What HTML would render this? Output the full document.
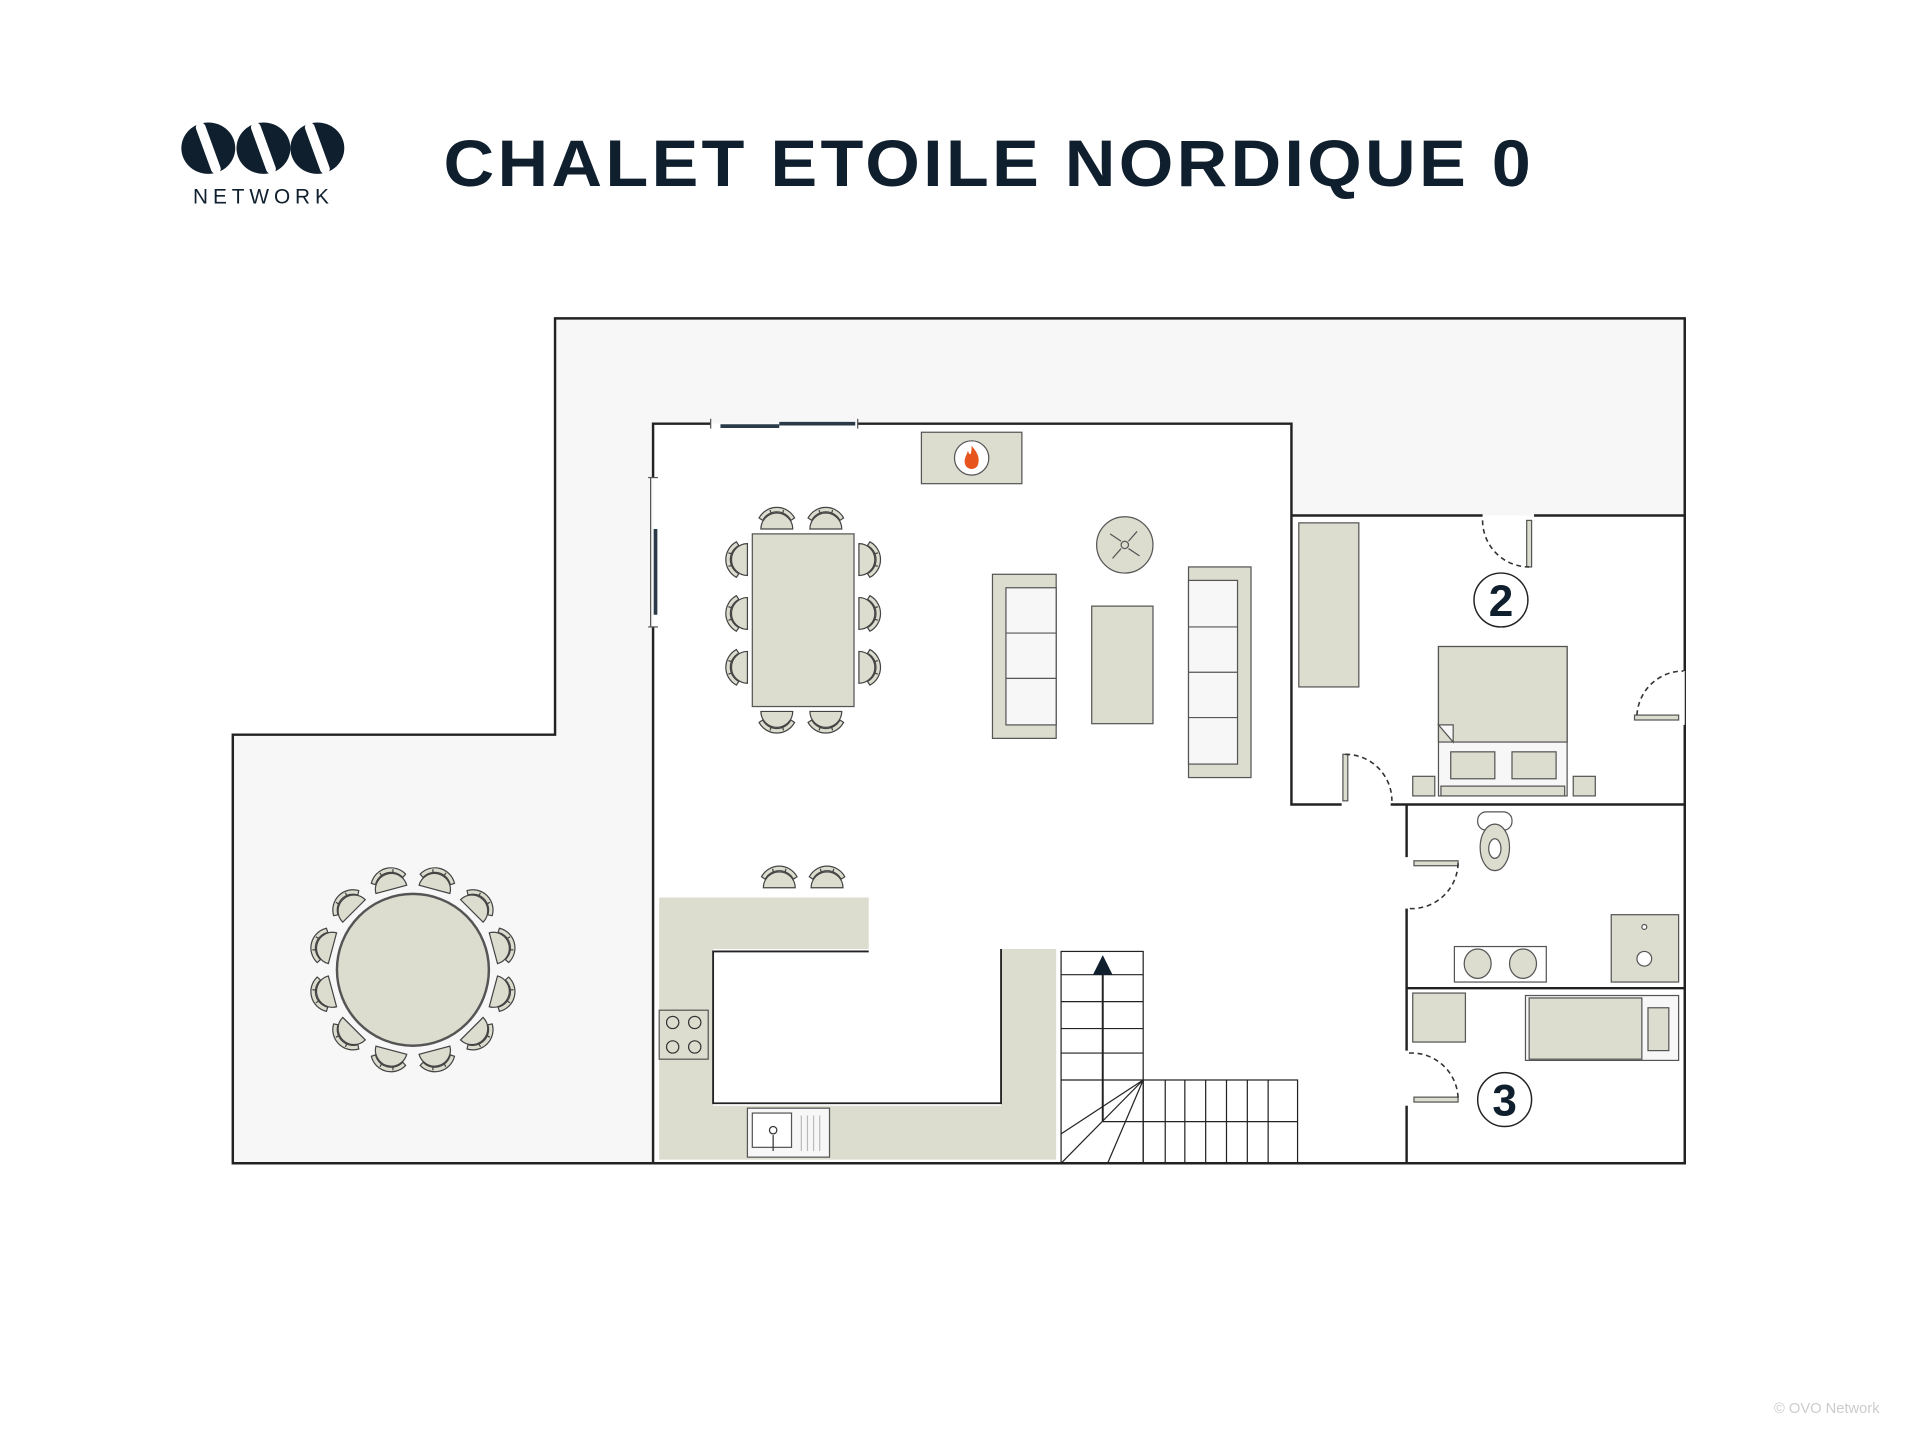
<!DOCTYPE html>
<html><head><meta charset="utf-8"><style>
html,body{margin:0;padding:0;background:#fff;}
svg{display:block;}
</style></head><body>
<svg width="1920" height="1440" viewBox="0 0 1567 1176" preserveAspectRatio="none" xmlns="http://www.w3.org/2000/svg">
<defs>
<g id="ch">
<path d="M-13,8 A13,13 0 0 1 13,8 Z" fill="#dcdccf" stroke="#444" stroke-width="1"/>
<path d="M-11.5,1 A13,13 0 0 1 11.5,1 L14.5,-1 A16.5,16.5 0 0 0 -14.5,-1 Z" fill="#dcdccf" stroke="#444" stroke-width="1"/>
<path d="M-4.5,-4 L-5.5,-7.5 M4.5,-4 L5.5,-7.5" stroke="#444" stroke-width="1"/>
</g>
</defs>
<rect width="1567" height="1176" fill="#fff"/>
<!-- logo -->
<g fill="#0f1f2e">
<ellipse cx="170" cy="121" rx="22" ry="21"/>
<ellipse cx="215" cy="121" rx="22" ry="21"/>
<ellipse cx="259" cy="121" rx="22" ry="21"/>
</g>
<g fill="#fff">
<rect x="-4" y="-22" width="8" height="44" rx="4" transform="translate(170,121) rotate(-20)"/>
<rect x="-4" y="-22" width="8" height="44" rx="4" transform="translate(215,121) rotate(-20)"/>
<rect x="-4" y="-22" width="8" height="44" rx="4" transform="translate(259,121) rotate(-20)"/>
</g>
<text x="215" y="166" font-family="Liberation Sans, sans-serif" font-size="17" fill="#0f1f2e" text-anchor="middle" letter-spacing="4">NETWORK</text>
<text x="362" y="152" font-family="Liberation Sans, sans-serif" font-weight="bold" font-size="54" fill="#0f1f2e" letter-spacing="2.5" textLength="890" lengthAdjust="spacingAndGlyphs">CHALET ETOILE NORDIQUE 0</text>

<!-- terrace -->
<polygon points="453,260 1375,260 1375,950 190,950 190,600 453,600" fill="#f7f7f7" stroke="#222" stroke-width="2"/>
<polygon points="533,346 1054,346 1054,421 1375,421 1375,950 533,950" fill="#fff"/>
<g stroke="#222" stroke-width="2" fill="none">
<line x1="190" y1="950" x2="1376" y2="950"/>
<line x1="1375" y1="260" x2="1375" y2="548"/>
<line x1="1375" y1="592" x2="1375" y2="950"/>
<polyline points="533,390 533,346 580,346"/>
<polyline points="700,346 1054,346 1054,657 1095,657"/>
<line x1="533" y1="512" x2="533" y2="950"/>
<line x1="1054" y1="421" x2="1210" y2="421"/>
<line x1="1252" y1="421" x2="1375" y2="421"/>
<line x1="1135" y1="657" x2="1375" y2="657"/>
<line x1="1148" y1="657" x2="1148" y2="700"/>
<line x1="1148" y1="742" x2="1148" y2="858"/>
<line x1="1148" y1="903" x2="1148" y2="950"/>
<line x1="1148" y1="807" x2="1375" y2="807"/>
</g>
<!-- windows -->
<g stroke="#2a3a48" stroke-width="3">
<line x1="588" y1="348" x2="636" y2="348"/><line x1="636" y1="346" x2="698" y2="346"/>
<line x1="535" y1="432" x2="535" y2="502"/>
</g>
<g stroke="#555" stroke-width="1" fill="none">
<line x1="580" y1="342" x2="580" y2="350"/><line x1="700" y1="342" x2="700" y2="350"/>
<line x1="529" y1="390" x2="537" y2="390"/><line x1="529" y1="512" x2="537" y2="512"/>
<line x1="531" y1="390" x2="531" y2="512"/>
</g>
<!-- doors -->
<g fill="#dcdccf" stroke="#555" stroke-width="1">
<rect x="1246" y="425" width="4" height="38"/>
<rect x="1334" y="584" width="36" height="4"/>
<rect x="1096" y="616" width="4" height="38"/>
<rect x="1154" y="703" width="36" height="4"/>
<rect x="1154" y="896" width="36" height="4"/>
</g>
<g fill="none" stroke="#333" stroke-width="1.3" stroke-dasharray="4,3">
<path d="M1210,425 A38,38 0 0 0 1248,463"/>
<path d="M1336,584 A38,38 0 0 1 1374,548"/>
<path d="M1098,616 A38,38 0 0 1 1136,654"/>
<path d="M1190,705 A38,38 0 0 1 1150,742"/>
<path d="M1150,860 A38,38 0 0 1 1190,898"/>
</g>
<!-- fireplace -->
<rect x="752" y="353" width="82" height="42" fill="#dcdccf" stroke="#555"/>
<circle cx="793" cy="374" r="14" fill="#fff" stroke="#555"/>
<path d="M793,364 C798,370 800,374 798,380 C796,384 790,384 788,380 C786,375 789,372 790,368 C791,372 793,373 793,364 Z" fill="#e8541e"/>
<!-- fan -->
<circle cx="918" cy="445" r="23" fill="#dcdccf" stroke="#555"/>
<g stroke="#555" fill="none"><circle cx="918" cy="445" r="3"/><path d="M915,442 L906,436 M921,442 L928,434 M921,448 L930,454 M915,448 L908,456"/></g>
<!-- dining -->
<rect x="614" y="436" width="83" height="141" fill="#dcdccf" stroke="#555"/>
<use href="#ch" transform="translate(634,424)"/><use href="#ch" transform="translate(674,424)"/>
<use href="#ch" transform="translate(634,589) rotate(180)"/><use href="#ch" transform="translate(674,589) rotate(180)"/>
<use href="#ch" transform="translate(602,457) rotate(-90)"/><use href="#ch" transform="translate(602,501) rotate(-90)"/><use href="#ch" transform="translate(602,545) rotate(-90)"/>
<use href="#ch" transform="translate(709,457) rotate(90)"/><use href="#ch" transform="translate(709,501) rotate(90)"/><use href="#ch" transform="translate(709,545) rotate(90)"/>
<!-- sofas -->
<g stroke="#555" stroke-width="1">
<rect x="810" y="469" width="52" height="134" fill="#dcdccf"/>
<rect x="821" y="480" width="41" height="112" fill="#f7f7f7"/>
<line x1="821" y1="517" x2="862" y2="517"/><line x1="821" y1="554" x2="862" y2="554"/>
<rect x="891" y="495" width="50" height="96" fill="#dcdccf"/>
<rect x="970" y="463" width="51" height="172" fill="#dcdccf"/>
<rect x="970" y="474" width="40" height="150" fill="#f7f7f7"/>
<line x1="970" y1="512" x2="1010" y2="512"/><line x1="970" y1="549" x2="1010" y2="549"/><line x1="970" y1="586" x2="1010" y2="586"/>
<!-- bedroom -->
<rect x="1060" y="427" width="49" height="134" fill="#dcdccf"/>
<rect x="1174" y="528" width="105" height="122" fill="#f7f7f7"/>
<rect x="1174" y="528" width="105" height="78" fill="#dcdccf"/>
<path d="M1174,592 L1186,592 L1186,606 Z" fill="#f7f7f7"/>
<rect x="1184" y="614" width="36" height="22" fill="#dcdccf"/>
<rect x="1234" y="614" width="36" height="22" fill="#dcdccf"/>
<rect x="1176" y="642" width="101" height="8" fill="#dcdccf"/>
<rect x="1153" y="634" width="18" height="16" fill="#dcdccf"/>
<rect x="1284" y="634" width="18" height="16" fill="#dcdccf"/>
<!-- bath -->
<rect x="1206" y="663" width="28" height="15" rx="7" fill="#fff"/>
<ellipse cx="1220" cy="692" rx="12" ry="19" fill="#dcdccf"/>
<ellipse cx="1220" cy="693" rx="5" ry="8" fill="#fff"/>
<rect x="1187" y="773" width="75" height="29" fill="#fff"/>
<ellipse cx="1206" cy="787" rx="11" ry="12" fill="#dcdccf"/><ellipse cx="1243" cy="787" rx="11" ry="12" fill="#dcdccf"/>
<rect x="1315" y="747" width="55" height="55" fill="#dcdccf"/>
<circle cx="1342" cy="783" r="6" fill="#fff"/><circle cx="1342" cy="757" r="2" fill="#fff"/>
<rect x="1153" y="811" width="43" height="40" fill="#dcdccf"/>
<rect x="1245" y="813" width="125" height="53" fill="#f7f7f7"/>
<rect x="1248" y="815" width="92" height="50" fill="#dcdccf"/>
<rect x="1345" y="823" width="17" height="35" fill="#dcdccf"/>
<!-- kitchen -->
<path d="M538,733 L709,733 L709,775 L582,775 L582,903 L817,903 L817,775 L862,775 L862,947 L538,947 Z" fill="#dcdccf" stroke="none"/>
<rect x="538" y="825" width="40" height="40" fill="#dcdccf"/>
<rect x="610" y="905" width="67" height="40" fill="#f7f7f7"/>
<rect x="614" y="909" width="32" height="28" fill="#fff"/>
</g>
<g fill="none" stroke="#222" stroke-width="1.5"><polyline points="709,777 582,777 582,901 817,901 817,775"/></g>
<g fill="none" stroke="#333" stroke-width="1">
<circle cx="549" cy="835" r="5"/><circle cx="567" cy="835" r="5"/><circle cx="549" cy="855" r="5"/><circle cx="567" cy="855" r="5"/>
<circle cx="631" cy="923" r="3"/><line x1="631" y1="927" x2="631" y2="940"/>
</g>
<g stroke="#bbb"><line x1="654" y1="911" x2="654" y2="940"/><line x1="659" y1="911" x2="659" y2="940"/><line x1="664" y1="911" x2="664" y2="940"/><line x1="669" y1="911" x2="669" y2="940"/></g>
<use href="#ch" transform="translate(636,717)"/><use href="#ch" transform="translate(675,717)"/>
<!-- stairs -->
<g stroke="#222" stroke-width="1" fill="none">
<rect x="866" y="777" width="67" height="173"/>
<line x1="866" y1="796" x2="933" y2="796"/><line x1="866" y1="818" x2="933" y2="818"/><line x1="866" y1="840" x2="933" y2="840"/><line x1="866" y1="860" x2="933" y2="860"/><line x1="866" y1="882" x2="933" y2="882"/>
<rect x="933" y="882" width="126" height="68"/>
<line x1="900" y1="916" x2="1059" y2="916"/>
<line x1="951" y1="882" x2="951" y2="950"/><line x1="967" y1="882" x2="967" y2="950"/><line x1="984" y1="882" x2="984" y2="950"/><line x1="1001" y1="882" x2="1001" y2="950"/><line x1="1018" y1="882" x2="1018" y2="950"/><line x1="1035" y1="882" x2="1035" y2="950"/>
<line x1="933" y1="882" x2="866" y2="926"/><line x1="933" y1="882" x2="866" y2="950"/><line x1="933" y1="882" x2="904" y2="950"/>
<line x1="900" y1="916" x2="900" y2="795" stroke-width="1.6"/>
</g>
<polygon points="900,780 892,796 908,796" fill="#0f1f2e"/>
<!-- round table -->
<circle cx="337" cy="792" r="62" fill="#dcdccf" stroke="#555" stroke-width="2"/>
<g>
<use href="#ch" transform="translate(337,792) rotate(-15) translate(0,-76)"/>
<use href="#ch" transform="translate(337,792) rotate(15) translate(0,-76)"/>
<use href="#ch" transform="translate(337,792) rotate(45) translate(0,-76)"/>
<use href="#ch" transform="translate(337,792) rotate(75) translate(0,-76)"/>
<use href="#ch" transform="translate(337,792) rotate(105) translate(0,-76)"/>
<use href="#ch" transform="translate(337,792) rotate(135) translate(0,-76)"/>
<use href="#ch" transform="translate(337,792) rotate(165) translate(0,-76)"/>
<use href="#ch" transform="translate(337,792) rotate(195) translate(0,-76)"/>
<use href="#ch" transform="translate(337,792) rotate(225) translate(0,-76)"/>
<use href="#ch" transform="translate(337,792) rotate(255) translate(0,-76)"/>
<use href="#ch" transform="translate(337,792) rotate(285) translate(0,-76)"/>
<use href="#ch" transform="translate(337,792) rotate(315) translate(0,-76)"/>
</g>
<!-- labels -->
<circle cx="1225" cy="490" r="22" fill="#fff" stroke="#222" stroke-width="1.2"/>
<text x="1225" y="503" text-anchor="middle" font-family="Liberation Sans, sans-serif" font-weight="bold" font-size="36" fill="#0f1f2e">2</text>
<circle cx="1228" cy="898" r="22" fill="#fff" stroke="#222" stroke-width="1.2"/>
<text x="1228" y="911" text-anchor="middle" font-family="Liberation Sans, sans-serif" font-weight="bold" font-size="36" fill="#0f1f2e">3</text>
<text x="1534" y="1154" text-anchor="end" font-family="Liberation Sans, sans-serif" font-size="12" fill="#ccc">© OVO Network</text>
</svg>
</body></html>
